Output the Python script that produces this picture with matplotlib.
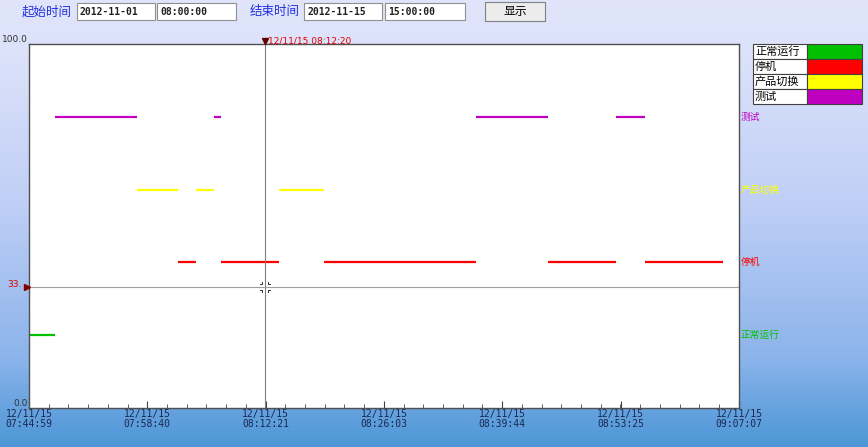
import numpy as np
import matplotlib
matplotlib.use("Agg")
import matplotlib.pyplot as plt
import matplotlib.dates as mdates
from matplotlib.patches import Rectangle
from matplotlib.ticker import AutoMinorLocator
from matplotlib.transforms import blended_transform_factory
from datetime import datetime

plt.rcParams['font.family'] = ['Noto Sans CJK SC', 'DejaVu Sans']

DAY = "2012-11-15 "

# state names, level on the y axis and colour
states = ["正常运行", "停机", "产品切换", "测试"]
levels = [20, 40, 60, 80]
colors = ["#00c000", "#ff0000", "#ffff00", "#c000c0"]

# segments per state (start, end)
seg_normal = [("07:44:59", "07:47:59")]
seg_stop = [("08:02:13", "08:04:18"), ("08:07:11", "08:13:54"),
            ("08:19:06", "08:36:41"), ("08:45:01", "08:52:52"),
            ("08:56:14", "09:05:15")]
seg_switch = [("07:57:28", "08:02:13"), ("08:04:18", "08:06:23"),
              ("08:13:54", "08:19:06")]
seg_test = [("07:47:59", "07:57:28"), ("08:06:23", "08:07:11"),
            ("08:36:41", "08:45:01"), ("08:52:52", "08:56:14")]
segments = [seg_normal, seg_stop, seg_switch, seg_test]

tick_times = ["07:44:59", "07:58:40", "08:12:21", "08:26:03",
              "08:39:44", "08:53:25", "09:07:07"]
cursor_time = "08:12:20"
cursor_value = 33.2


def t(s):
    return mdates.date2num(datetime.strptime(DAY + s, "%Y-%m-%d %H:%M:%S"))


W, H = 868, 447
fig = plt.figure(figsize=(W / 100, H / 100), dpi=100)

# background gradient
bg = fig.add_axes([0, 0, 1, 1], zorder=-10)
stops_y = [0, 0.12, 0.45, 0.8, 1.0]
stops_c = np.array([[224, 229, 251], [220, 226, 250], [192, 207, 246],
                    [140, 180, 235], [76, 150, 214]]) / 255.0
yy = np.linspace(0, 1, 447)
grad = np.stack([np.interp(yy, stops_y, stops_c[:, k]) for k in range(3)], axis=-1)
bg.imshow(grad[:, None, :], aspect="auto", extent=[0, 1, 1, 0])
bg.set_xlim(0, 1)
bg.set_ylim(1, 0)
bg.axis("off")

# main plot
ax = fig.add_axes([29 / W, (H - 408) / H, 710 / W, 364 / H])
ax.set_facecolor("white")
for segs, lv, c in zip(segments, levels, colors):
    for a, b in segs:
        ax.plot([t(a), t(b)], [lv, lv], color=c, lw=1.6, solid_capstyle="butt")

ax.set_xlim(t(tick_times[0]), t(tick_times[-1]))
ax.set_ylim(0, 100)
ax.set_xticks([t(s) for s in tick_times])
ax.set_xticklabels(["12/11/15\n" + s for s in tick_times],
                   fontsize=7, color="#1a2850", family="DejaVu Sans Mono",
                   linespacing=0.95)
ax.xaxis.set_minor_locator(AutoMinorLocator(6))
ax.tick_params(axis="x", which="major", direction="in", length=5, pad=1,
               color="#404040")
ax.tick_params(axis="x", which="minor", direction="in", length=3,
               color="#404040")
ax.set_yticks([])
for sp in ax.spines.values():
    sp.set_color("#505050")
    sp.set_linewidth(1.0)

# cursor lines
ax.axvline(t(cursor_time), color="#808080", lw=0.8)
ax.axhline(cursor_value, color="#a0a0a0", lw=0.8)

# right side state labels
tr = blended_transform_factory(ax.transAxes, ax.transData)
for s, lv, c in zip(states, levels, colors):
    ax.text(1.002, lv, s, transform=tr, color=c, fontsize=7, va="center",
            ha="left", clip_on=False)

# pixel overlay for header, axis values, cursor labels and legend
ov = fig.add_axes([0, 0, 1, 1], zorder=5)
ov.set_xlim(0, W)
ov.set_ylim(H, 0)
ov.axis("off")

ov.text(28, 44, "100.0", fontsize=6.5, color="#303030", ha="right",
        va="bottom", family="DejaVu Sans")
ov.text(28, 408, "0.0", fontsize=6.5, color="#303030", ha="right",
        va="bottom", family="DejaVu Sans")

cx = 29 + (t(cursor_time) - t(tick_times[0])) / (t(tick_times[-1]) - t(tick_times[0])) * 710
ov.plot([cx], [41], marker="v", color="#600000", markersize=4)
ov.text(cx + 3, 41, "12/11/15 " + cursor_time, fontsize=6.5, color="#e00000",
        va="center", ha="left", family="DejaVu Sans")
cy = 408 - cursor_value / 100 * 364
ov.plot([27], [cy], marker=">", color="#800000", markersize=4)
ov.text(22, cy - 3, "33.", fontsize=6.5, color="#e00000", ha="right",
        va="center", family="DejaVu Sans")

# small corner marks around the cursor crossing
for dx in (-1, 1):
    for dy in (-1, 1):
        x0, y0 = cx + 3 * dx, cy + 3 * dy
        ov.plot([x0 + 2 * dx, x0, x0], [y0, y0, y0 + 2 * dy],
                color="#303030", lw=0.7)

# header
ov.text(22, 12, "起始时间", fontsize=9, color="#2030e0", va="center")
ov.text(250, 12, "结束时间", fontsize=9, color="#2030e0", va="center")
boxes = [(77, 155, "2012-11-01"), (157, 236, "08:00:00"),
         (304, 382, "2012-11-15"), (385, 465, "15:00:00")]
for x0, x1, s in boxes:
    ov.add_patch(Rectangle((x0, 3), x1 - x0, 17, facecolor="white",
                           edgecolor="#909090", lw=0.8))
    ov.text(x0 + 3, 12, s, fontsize=7, family="DejaVu Sans Mono",
            fontweight="bold", color="#202020", va="center")
ov.add_patch(Rectangle((485, 2), 60, 19, facecolor="#ececec",
                       edgecolor="#808080", lw=0.8))
ov.text(515, 12, "显示", fontsize=8.5, color="black", ha="center", va="center")

# legend table
lx, ly, rh = 753, 44, 15
for i, (s, c) in enumerate(zip(states, colors)):
    y0 = ly + i * rh
    ov.add_patch(Rectangle((lx, y0), 54, rh, facecolor="white",
                           edgecolor="#404040", lw=0.8))
    ov.add_patch(Rectangle((lx + 54, y0), 55, rh, facecolor=c,
                           edgecolor="#404040", lw=0.8))
    ov.text(lx + 2, y0 + rh / 2, s, fontsize=8, color="black", va="center")

fig.savefig("out.png", dpi=100)
